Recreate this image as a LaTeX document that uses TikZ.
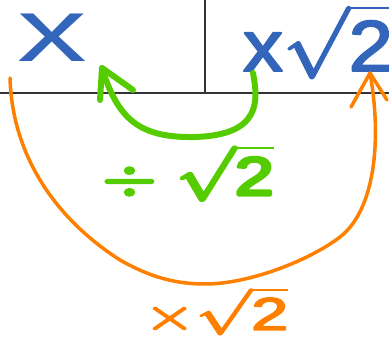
\documentclass[tikz,border=0pt]{standalone}
\usepackage{fontspec}
\usepackage{unicode-math}
\setmathfont{Latin Modern Math}
\newfontfamily\hand{Liberation Sans}
\newcommand{\thickink}[2]{\special{pdf:literal direct 2 Tr #1 w 1 j}#2\special{pdf:literal direct 0 Tr 0.4 w 0 j}}
\definecolor{inkblue}{HTML}{3366BB}
\definecolor{inkgreen}{HTML}{55CC00}
\definecolor{inkorange}{HTML}{FF8000}
\definecolor{inkgray}{HTML}{333333}
\begin{document}
\begin{tikzpicture}[x=1pt,y=-1pt,
  grid/.style={draw=inkgray,line width=2pt},
  greenstroke/.style={draw=inkgreen,line width=6pt,line cap=round,line join=round},
  orangestroke/.style={draw=inkorange,line width=3.5pt,line cap=round,line join=round},
  lbl/.style={inner sep=0pt,anchor=base}]
\useasboundingbox (0,0) rectangle (389,344);
% table
\coordinate (hl) at (0,93); \coordinate (hr) at (389,93);
\coordinate (vt) at (205,0); \coordinate (vb) at (205,93);
\draw[grid] (hl) -- (hr);
\draw[grid] (vt) -- (vb);
% labels
\node[lbl,text=inkblue,xscale=1.55,font=\fontsize{90}{90}\selectfont] (x) at (52,62) {\hand x};
\node[lbl,text=inkblue,xscale=1.1,font=\fontsize{72}{72}\selectfont] (xr) at (318,71) {\thickink{2}{$\mbox{\hand x}\sqrt{\mbox{\hand 2}}$}};
\node[lbl,text=inkgreen,xscale=1.3,font=\fontsize{54}{54}\selectfont] (div) at (188,195) {\thickink{3}{$\div\;\sqrt{\mbox{\hand 2}}$}};
\node[lbl,text=inkorange,xscale=1.45,font=\fontsize{46}{46}\selectfont] (mul) at (216,330) {\thickink{1.5}{$\times\sqrt{\mbox{\hand 2}}$}};
% green arrow
\coordinate (gs) at (253,73);
\coordinate (gt) at (102,68);
\coordinate (gh1) at (100,100);
\coordinate (gh2) at (133,90);
\draw[greenstroke] (gs) .. controls (258,100) and (262,135) .. (195,137)
  .. controls (140,138) and (118,120) .. (gt);
\draw[greenstroke] (gh1) -- (gt) -- (gh2);
% orange arrow
\coordinate (os) at (10,78);
\coordinate (ot) at (370,73);
\coordinate (oh1) at (351,107);
\coordinate (oh2) at (387,100);
\draw[orangestroke] (os) .. controls (12,150) and (50,215) .. (120,260)
  .. controls (150,277) and (175,284) .. (205,284)
  .. controls (250,284) and (310,260) .. (340,237)
  .. controls (375,210) and (382,140) .. (ot);
\draw[orangestroke] (oh1) -- (ot) -- (oh2);
\end{tikzpicture}
\end{document}
